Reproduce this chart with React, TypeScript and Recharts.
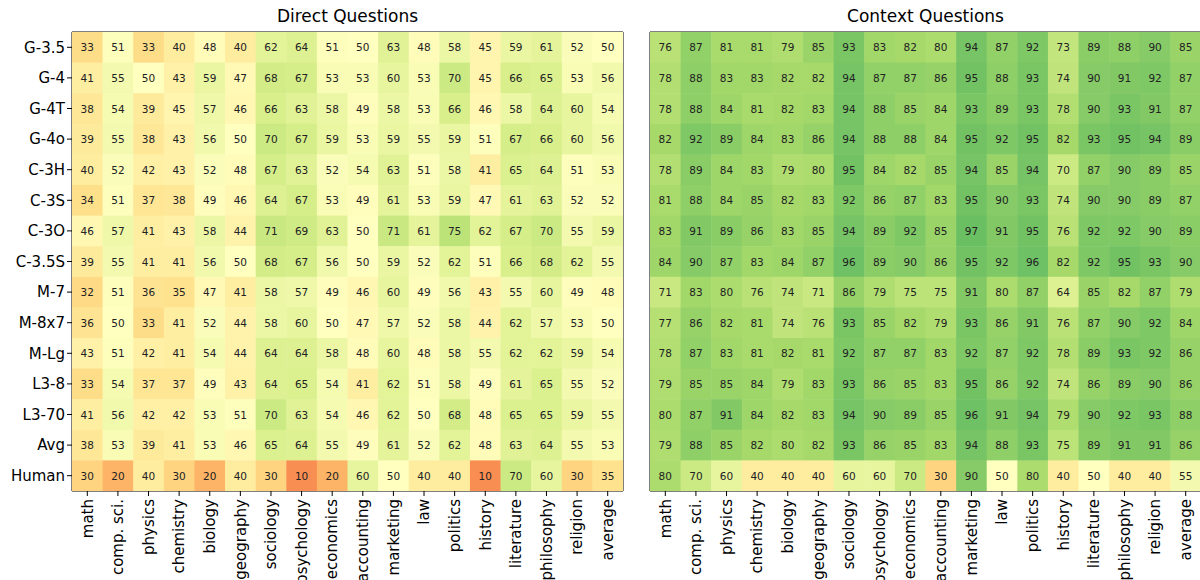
import React from "react";
import { ScatterChart, Scatter, XAxis, YAxis, ReferenceArea } from "recharts";

const models = ["G-3.5", "G-4", "G-4T", "G-4o", "C-3H", "C-3S", "C-3O", "C-3.5S", "M-7", "M-8x7", "M-Lg", "L3-8", "L3-70", "Avg", "Human"];
const subjects = ["math", "comp. sci.", "physics", "chemistry", "biology", "geography", "sociology", "psychology", "economics", "accounting", "marketing", "law", "politics", "history", "literature", "philosophy", "religion", "average"];

const direct = [
  [33, 51, 33, 40, 48, 40, 62, 64, 51, 50, 63, 48, 58, 45, 59, 61, 52, 50],
  [41, 55, 50, 43, 59, 47, 68, 67, 53, 53, 60, 53, 70, 45, 66, 65, 53, 56],
  [38, 54, 39, 45, 57, 46, 66, 63, 58, 49, 58, 53, 66, 46, 58, 64, 60, 54],
  [39, 55, 38, 43, 56, 50, 70, 67, 59, 53, 59, 55, 59, 51, 67, 66, 60, 56],
  [40, 52, 42, 43, 52, 48, 67, 63, 52, 54, 63, 51, 58, 41, 65, 64, 51, 53],
  [34, 51, 37, 38, 49, 46, 64, 67, 53, 49, 61, 53, 59, 47, 61, 63, 52, 52],
  [46, 57, 41, 43, 58, 44, 71, 69, 63, 50, 71, 61, 75, 62, 67, 70, 55, 59],
  [39, 55, 41, 41, 56, 50, 68, 67, 56, 50, 59, 52, 62, 51, 66, 68, 62, 55],
  [32, 51, 36, 35, 47, 41, 58, 57, 49, 46, 60, 49, 56, 43, 55, 60, 49, 48],
  [36, 50, 33, 41, 52, 44, 58, 60, 50, 47, 57, 52, 58, 44, 62, 57, 53, 50],
  [43, 51, 42, 41, 54, 44, 64, 64, 58, 48, 60, 48, 58, 55, 62, 62, 59, 54],
  [33, 54, 37, 37, 49, 43, 64, 65, 54, 41, 62, 51, 58, 49, 61, 65, 55, 52],
  [41, 56, 42, 42, 53, 51, 70, 63, 54, 46, 62, 50, 68, 48, 65, 65, 59, 55],
  [38, 53, 39, 41, 53, 46, 65, 64, 55, 49, 61, 52, 62, 48, 63, 64, 55, 53],
  [30, 20, 40, 30, 20, 40, 30, 10, 20, 60, 50, 40, 40, 10, 70, 60, 30, 35],
];

const context = [
  [76, 87, 81, 81, 79, 85, 93, 83, 82, 80, 94, 87, 92, 73, 89, 88, 90, 85],
  [78, 88, 83, 83, 82, 82, 94, 87, 87, 86, 95, 88, 93, 74, 90, 91, 92, 87],
  [78, 88, 84, 81, 82, 83, 94, 88, 85, 84, 93, 89, 93, 78, 90, 93, 91, 87],
  [82, 92, 89, 84, 83, 86, 94, 88, 88, 84, 95, 92, 95, 82, 93, 95, 94, 89],
  [78, 89, 84, 83, 79, 80, 95, 84, 82, 85, 94, 85, 94, 70, 87, 90, 89, 85],
  [81, 88, 84, 85, 82, 83, 92, 86, 87, 83, 95, 90, 93, 74, 90, 90, 89, 87],
  [83, 91, 89, 86, 83, 85, 94, 89, 92, 85, 97, 91, 95, 76, 92, 92, 90, 89],
  [84, 90, 87, 83, 84, 87, 96, 89, 90, 86, 95, 92, 96, 82, 92, 95, 93, 90],
  [71, 83, 80, 76, 74, 71, 86, 79, 75, 75, 91, 80, 87, 64, 85, 82, 87, 79],
  [77, 86, 82, 81, 74, 76, 93, 85, 82, 79, 93, 86, 91, 76, 87, 90, 92, 84],
  [78, 87, 83, 81, 82, 81, 92, 87, 87, 83, 92, 87, 92, 78, 89, 93, 92, 86],
  [79, 85, 85, 84, 79, 83, 93, 86, 85, 83, 95, 86, 92, 74, 86, 89, 90, 86],
  [80, 87, 91, 84, 82, 83, 94, 90, 89, 85, 96, 91, 94, 79, 90, 92, 93, 88],
  [79, 88, 85, 82, 80, 82, 93, 86, 85, 83, 94, 88, 93, 75, 89, 91, 91, 86],
  [80, 70, 60, 40, 40, 40, 60, 60, 70, 30, 90, 50, 80, 40, 50, 40, 40, 55],
];

// RdYlGn stops
const stops = ["#a50026", "#d73027", "#f46d43", "#fdae61", "#fee08b", "#ffffbf", "#d9ef8b", "#a6d96a", "#66bd63", "#1a9850", "#006837"];

function hex(c: string) {
  return [1, 3, 5].map((i) => parseInt(c.slice(i, i + 2), 16));
}

function color(v: number) {
  // color range looks like -30..130
  let t = 0.5 + (v - 50) / 160;
  t = Math.max(0, Math.min(1, t));
  const p = t * 10;
  const i = Math.min(9, Math.floor(p));
  const f = p - i;
  const a = hex(stops[i]);
  const b = hex(stops[i + 1]);
  const m = a.map((x, k) => Math.round(x + (b[k] - x) * f));
  return `rgb(${m[0]},${m[1]},${m[2]})`;
}

const toPoints = (grid: number[][]) =>
  grid.flatMap((row, r) => row.map((v, c) => ({ x: c, y: r, v })));

const PLOT_W = 551;
const PLOT_H = 459;
const CW = PLOT_W / subjects.length;
const CH = PLOT_H / models.length;
const FONT = "DejaVu Sans, sans-serif";

const CellShape = (p: any) => (
  <g>
    <rect x={p.cx - CW / 2} y={p.cy - CH / 2} width={CW + 0.5} height={CH + 0.5} fill={color(p.payload.v)} />
    <text x={p.cx} y={p.cy} textAnchor="middle" dominantBaseline="central" fontSize={10.5} fill="#222" fontFamily={FONT}>
      {p.payload.v}
    </text>
  </g>
);

const XTick = ({ x, y, payload }: any) => (
  <g transform={`translate(${x},${y})`}>
    <text transform="rotate(-90)" textAnchor="end" x={-1} y={0} dy="0.35em" fontSize={15} fill="#000" fontFamily={FONT}>
      {subjects[payload.value]}
    </text>
  </g>
);

const xTicks = subjects.map((_, i) => i);
const yTicks = models.map((_, i) => i);

function Heatmap({ grid, showY, left, width }: { grid: number[][]; showY: boolean; left: number; width: number }) {
  return (
    <ScatterChart
      width={width}
      height={580}
      margin={{ top: 32, right: width - left - PLOT_W, bottom: 0, left: showY ? 0 : left }}
    >
      <XAxis
        type="number"
        dataKey="x"
        domain={[-0.5, subjects.length - 0.5]}
        ticks={xTicks}
        interval={0}
        height={89}
        tick={<XTick />}
        tickLine={{ stroke: "#000" }}
        tickSize={5}
        axisLine={false}
        allowDataOverflow
      />
      <YAxis
        type="number"
        dataKey="y"
        domain={[-0.5, models.length - 0.5]}
        reversed
        ticks={yTicks}
        interval={0}
        width={showY ? 72 : 0}
        hide={!showY}
        tickFormatter={(i: number) => models[i]}
        tick={{ fill: "#000", fontSize: 15, fontFamily: FONT }}
        tickLine={{ stroke: "#000" }}
        tickSize={5}
        tickMargin={2}
        axisLine={false}
        allowDataOverflow
      />
      <Scatter data={toPoints(grid)} shape={<CellShape />} isAnimationActive={false} />
      <ReferenceArea
        x1={-0.5}
        x2={subjects.length - 0.5}
        y1={-0.5}
        y2={models.length - 0.5}
        fill="none"
        stroke="#000"
        strokeWidth={1}
        ifOverflow="visible"
      />
    </ScatterChart>
  );
}

export default function App() {
  return (
    <div style={{ position: "absolute", left: 0, top: 0, width: 1200, height: 580, overflow: "hidden", background: "#fff", fontFamily: FONT }}>
      <div style={{ position: "absolute", left: 72, top: 6, width: PLOT_W, textAlign: "center", fontSize: 17 }}>Direct Questions</div>
      <div style={{ position: "absolute", left: 650, top: 6, width: PLOT_W, textAlign: "center", fontSize: 17 }}>Context Questions</div>
      <div style={{ position: "absolute", left: 0, top: 0 }}>
        <Heatmap grid={direct} showY left={72} width={626} />
      </div>
      <div style={{ position: "absolute", left: 626, top: 0 }}>
        <Heatmap grid={context} showY={false} left={24} width={578} />
      </div>
    </div>
  );
}
